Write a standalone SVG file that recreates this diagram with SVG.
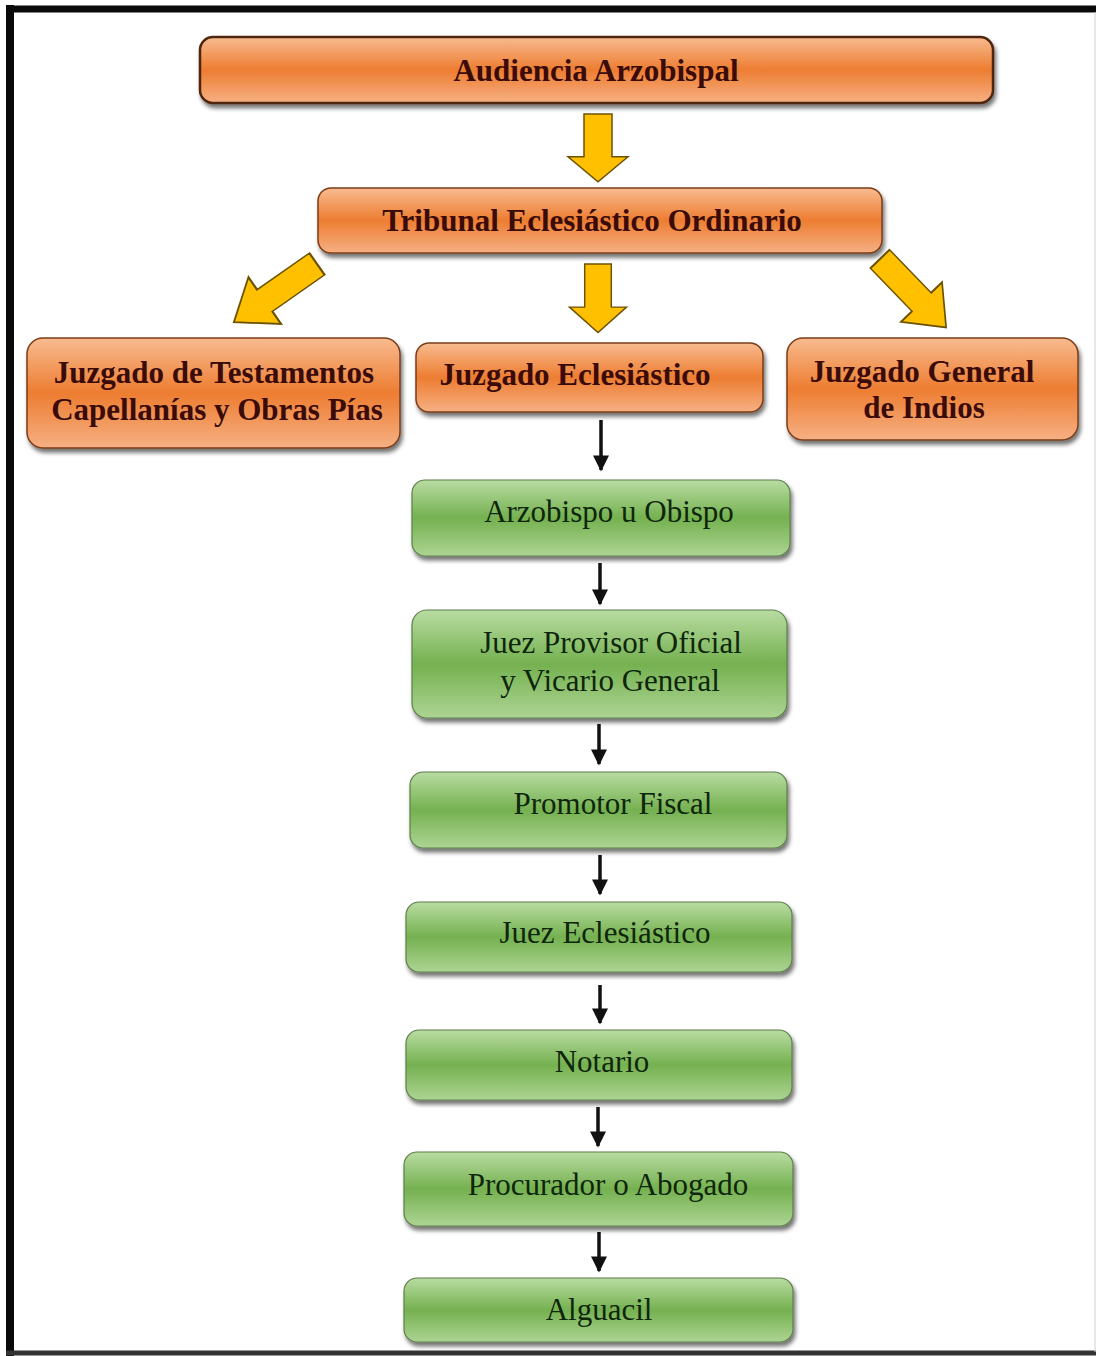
<svg xmlns="http://www.w3.org/2000/svg" width="1096" height="1356" viewBox="0 0 1096 1356">
<defs>
<linearGradient id="gOr" x1="0" y1="0" x2="0" y2="1">
<stop offset="0" stop-color="#f8bb90"/>
<stop offset="0.5" stop-color="#ed7d31"/>
<stop offset="1" stop-color="#f6b084"/>
</linearGradient>
<linearGradient id="gGr" x1="0" y1="0" x2="0" y2="1">
<stop offset="0" stop-color="#b9dca2"/>
<stop offset="0.5" stop-color="#75b150"/>
<stop offset="1" stop-color="#add493"/>
</linearGradient>
<filter id="sh" x="-10%" y="-20%" width="120%" height="150%">
<feDropShadow dx="2" dy="4" stdDeviation="2" flood-color="#000" flood-opacity="0.55"/>
</filter>
<marker id="ah" viewBox="0 0 10 10" refX="9" refY="5" markerWidth="5" markerHeight="4.6" orient="auto" markerUnits="strokeWidth">
<path d="M0,0 L10,5 L0,10 Z" fill="#111"/>
</marker>
<path id="bigArrow" d="M-14,0 L14,0 L14,44 L30,44 L0,70 L-30,44 L-14,44 Z"/>
</defs>
<style>
.or{fill:url(#gOr);stroke:#7a3d18;stroke-width:1.5;filter:url(#sh)}
.or1{stroke:#4e2510;stroke-width:2.5}
.gr{fill:url(#gGr);stroke:#5d7f4a;stroke-width:1.2;filter:url(#sh)}
.to{font-family:"Liberation Serif","Times New Roman",serif;font-weight:bold;font-size:31px;fill:#3a0b08;text-anchor:middle}
.tg{font-family:"Liberation Serif","Times New Roman",serif;font-size:31px;fill:#0e260c;text-anchor:middle}
.ya{fill:#ffc000;stroke:#6b5200;stroke-width:1.5}
.ba{stroke:#111;stroke-width:3.5;fill:none;marker-end:url(#ah)}
</style>
<rect x="0" y="0" width="1096" height="1356" fill="#ffffff"/>
<g id="frame">
<line x1="10" y1="5" x2="10" y2="1356" stroke="#0a0a0a" stroke-width="8"/>
<line x1="6" y1="9" x2="1096" y2="9" stroke="#0a0a0a" stroke-width="7"/>
<line x1="6" y1="1353" x2="1096" y2="1353" stroke="#333" stroke-width="5"/>
<line x1="1095" y1="12" x2="1095" y2="1352" stroke="#d0d0d0" stroke-width="1"/>
</g>
<g id="connectors">
<use href="#bigArrow" class="ya" transform="translate(598,114) scale(1,0.97)"/>
<use href="#bigArrow" class="ya" transform="translate(598,264) scale(0.95,0.98)"/>
<use href="#bigArrow" class="ya" transform="translate(317,264) rotate(55) scale(0.95,1.45)"/>
<use href="#bigArrow" class="ya" transform="translate(880,259) rotate(-44) scale(0.95,1.36)"/>
<line class="ba" x1="601" y1="420" x2="601" y2="470"/>
<line class="ba" x1="600" y1="563" x2="600" y2="604"/>
<line class="ba" x1="599" y1="724" x2="599" y2="764"/>
<line class="ba" x1="600" y1="855" x2="600" y2="894"/>
<line class="ba" x1="600" y1="985" x2="600" y2="1023"/>
<line class="ba" x1="598" y1="1107" x2="598" y2="1146"/>
<line class="ba" x1="599" y1="1232" x2="599" y2="1271"/>
</g>
<g id="audiencia">
<rect class="or or1" x="200" y="37" width="793" height="66" rx="13"/>
<text class="to" x="596" y="81">Audiencia Arzobispal</text>
</g>
<g id="tribunal">
<rect class="or" x="318" y="188" width="564" height="65" rx="13"/>
<text class="to" x="592" y="231">Tribunal Eclesiástico Ordinario</text>
</g>
<g id="testamentos">
<rect class="or" x="27" y="338" width="373" height="110" rx="16"/>
<text class="to" x="214" y="383">Juzgado de Testamentos</text>
<text class="to" x="217" y="420">Capellanías y Obras Pías</text>
</g>
<g id="juzgado-eclesiastico">
<rect class="or" x="416" y="343" width="347" height="69" rx="13"/>
<text class="to" x="575" y="385">Juzgado Eclesiástico</text>
</g>
<g id="indios">
<rect class="or" x="787" y="338" width="291" height="102" rx="16"/>
<text class="to" x="922" y="382">Juzgado General</text>
<text class="to" x="924" y="418">de Indios</text>
</g>
<g id="arzobispo">
<rect class="gr" x="412" y="480" width="378" height="76" rx="13"/>
<text class="tg" x="609" y="522">Arzobispo u Obispo</text>
</g>
<g id="provisor">
<rect class="gr" x="412" y="610" width="375" height="108" rx="15"/>
<text class="tg" x="611" y="653">Juez Provisor Oficial</text>
<text class="tg" x="610" y="691">y Vicario General</text>
</g>
<g id="promotor">
<rect class="gr" x="410" y="772" width="377" height="76" rx="13"/>
<text class="tg" x="613" y="814">Promotor Fiscal</text>
</g>
<g id="juez-eclesiastico">
<rect class="gr" x="406" y="902" width="386" height="70" rx="13"/>
<text class="tg" x="605" y="943">Juez Eclesiástico</text>
</g>
<g id="notario">
<rect class="gr" x="406" y="1030" width="386" height="70" rx="13"/>
<text class="tg" x="602" y="1072">Notario</text>
</g>
<g id="procurador">
<rect class="gr" x="404" y="1152" width="389" height="74" rx="13"/>
<text class="tg" x="608" y="1195">Procurador o Abogado</text>
</g>
<g id="alguacil">
<rect class="gr" x="404" y="1278" width="389" height="64" rx="13"/>
<text class="tg" x="599" y="1320">Alguacil</text>
</g>
</svg>
